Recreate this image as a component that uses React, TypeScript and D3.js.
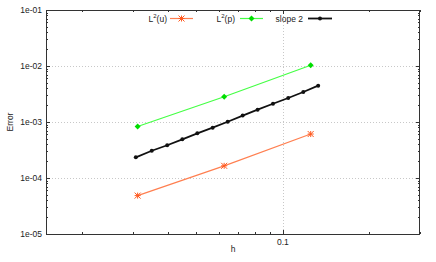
import React, { useEffect, useRef } from 'react';
import * as d3 from 'd3';

// h values and errors
const hMesh = [0.03125, 0.0625, 0.125];
const errU = [4.85e-5, 1.65e-4, 6.1e-4];
const errP = [8.3e-4, 2.83e-3, 1.03e-2];
const hSlope = [0.0308, 0.035, 0.0396, 0.0447, 0.0504, 0.057, 0.0643, 0.0725, 0.0817, 0.0924, 0.1044, 0.1178, 0.1327];
const errSlope = [2.34e-4, 3.07e-4, 3.84e-4, 4.91e-4, 6.28e-4, 7.91e-4, 1.01e-3, 1.3e-3, 1.66e-3, 2.12e-3, 2.68e-3, 3.43e-3, 4.45e-3];
const yTicks = [1e-1, 1e-2, 1e-3, 1e-4, 1e-5];
const xMinor = [0.02, 0.03, 0.04, 0.05, 0.06, 0.07, 0.08, 0.09, 0.2, 0.3];
const xTickLabels = [0.1];
const legendNames = ['L2(u)', 'L2(p)', 'slope 2'];

const App = () => {
  const svgRef = useRef<SVGSVGElement>(null);

  useEffect(() => {
    const width = 436;
    const height = 262;
    const left = 46;
    const right = 420;
    const top = 10;
    const bottom = 234;
    const font = '"Liberation Sans", Arial, sans-serif';

    const svg = d3.select(svgRef.current);
    svg.selectAll('*').remove();
    svg.attr('width', width).attr('height', height);

    const x = d3.scaleLog().domain([0.015, 0.3]).range([left, right]);
    const y = d3.scaleLog().domain([1e-5, 1e-1]).range([bottom, top]);

    // grid
    const grid = svg.append('g').attr('stroke', '#c8c8c8').attr('stroke-dasharray', '1,2').attr('stroke-width', 1);
    yTicks.slice(1, 4).forEach(t => {
      grid.append('line').attr('x1', left).attr('x2', right)
        .attr('y1', Math.round(y(t)) + 0.5).attr('y2', Math.round(y(t)) + 0.5);
    });
    xTickLabels.forEach(t => {
      grid.append('line').attr('y1', top).attr('y2', bottom)
        .attr('x1', Math.round(x(t)) + 0.5).attr('x2', Math.round(x(t)) + 0.5);
    });

    // ticks
    const ticks = svg.append('g').attr('stroke', '#333').attr('stroke-width', 1);
    const yMinor: number[] = [];
    for (let e = -5; e < -1; e++) {
      for (let m = 2; m <= 9; m++) yMinor.push(m * Math.pow(10, e));
    }
    yTicks.forEach(t => {
      const yy = Math.round(y(t)) + 0.5;
      ticks.append('line').attr('x1', left).attr('x2', left + 4).attr('y1', yy).attr('y2', yy);
      ticks.append('line').attr('x1', right - 4).attr('x2', right).attr('y1', yy).attr('y2', yy);
    });
    yMinor.forEach(t => {
      const yy = Math.round(y(t)) + 0.5;
      ticks.append('line').attr('x1', left).attr('x2', left + 2).attr('y1', yy).attr('y2', yy);
      ticks.append('line').attr('x1', right - 2).attr('x2', right).attr('y1', yy).attr('y2', yy);
    });
    xTickLabels.forEach(t => {
      const xx = Math.round(x(t)) + 0.5;
      ticks.append('line').attr('x1', xx).attr('x2', xx).attr('y1', bottom).attr('y2', bottom - 4);
      ticks.append('line').attr('x1', xx).attr('x2', xx).attr('y1', top).attr('y2', top + 4);
    });
    xMinor.forEach(t => {
      const xx = Math.round(x(t)) + 0.5;
      ticks.append('line').attr('x1', xx).attr('x2', xx).attr('y1', bottom).attr('y2', bottom - 2);
      ticks.append('line').attr('x1', xx).attr('x2', xx).attr('y1', top).attr('y2', top + 2);
    });

    // frame
    svg.append('rect').attr('x', left + 0.5).attr('y', top + 0.5)
      .attr('width', right - left - 1).attr('height', bottom - top)
      .attr('fill', 'none').attr('stroke', '#333').attr('stroke-width', 1);

    // tick labels
    const labels = svg.append('g').style('font-family', font).style('font-size', '8.5px').attr('fill', '#222');
    yTicks.forEach(t => {
      labels.append('text').attr('x', left - 4).attr('y', y(t) + 3)
        .attr('text-anchor', 'end').text(d3.format('.0e')(t).replace(/e([+-])(\d)$/, 'e$10$2'));
    });
    xTickLabels.forEach(t => {
      labels.append('text').attr('x', x(t)).attr('y', bottom + 11)
        .attr('text-anchor', 'middle').text(String(t));
    });
    labels.append('text').attr('x', 233).attr('y', 252).attr('text-anchor', 'middle').text('h');
    labels.append('text').attr('transform', 'translate(13,122) rotate(-90)')
      .attr('text-anchor', 'middle').text('Error');

    const line = d3.line<[number, number]>().x(d => x(d[0])).y(d => y(d[1]));

    const starMarker = (g: any, cx: number, cy: number, color: string) => {
      const r = 3;
      g.append('path')
        .attr('d', `M${cx - r},${cy}L${cx + r},${cy}M${cx},${cy - r}L${cx},${cy + r}M${cx - r},${cy - r}L${cx + r},${cy + r}M${cx - r},${cy + r}L${cx + r},${cy - r}`)
        .attr('stroke', color).attr('stroke-width', 1).attr('fill', 'none');
    };
    const diamondMarker = (g: any, cx: number, cy: number, color: string) => {
      const r = 3;
      g.append('path').attr('d', `M${cx},${cy - r}L${cx + r},${cy}L${cx},${cy + r}L${cx - r},${cy}Z`)
        .attr('fill', color);
    };
    const dotMarker = (g: any, cx: number, cy: number, color: string) => {
      g.append('circle').attr('cx', cx).attr('cy', cy).attr('r', 2).attr('fill', color);
    };

    const series = [
      { name: legendNames[0], xs: hMesh, ys: errU, color: '#ff7f50', mark: '#ff5a20', width: 1.2, marker: starMarker },
      { name: legendNames[1], xs: hMesh, ys: errP, color: '#44ff44', mark: '#00dd00', width: 1.2, marker: diamondMarker },
      { name: legendNames[2], xs: hSlope, ys: errSlope, color: '#111', mark: '#111', width: 1.8, marker: dotMarker }
    ];

    const plot = svg.append('g');
    series.forEach(s => {
      const pts = s.xs.map((h, i) => [h, s.ys[i]] as [number, number]);
      plot.append('path').attr('d', line(pts)).attr('fill', 'none')
        .attr('stroke', s.color).attr('stroke-width', s.width);
      pts.forEach(p => s.marker(plot, x(p[0]), y(p[1]), s.mark));
    });

    // legend
    const legend = svg.append('g').style('font-family', font).style('font-size', '8.5px').attr('fill', '#222');
    const legendX = [[167, 170, 193], [235, 240, 263], [303, 308, 332]];
    series.forEach((s, i) => {
      const [tx, l1, l2] = legendX[i];
      const t = legend.append('text').attr('x', tx).attr('y', 21.5).attr('text-anchor', 'end');
      if (i < 2) {
        t.append('tspan').text('L');
        t.append('tspan').attr('dy', -3.5).style('font-size', '6px').text('2');
        t.append('tspan').attr('dy', 3.5).text(i === 0 ? '(u)' : '(p)');
      } else {
        t.text(s.name);
      }
      legend.append('line').attr('x1', l1).attr('x2', l2).attr('y1', 18.5).attr('y2', 18.5)
        .attr('stroke', s.color).attr('stroke-width', s.width);
      s.marker(legend, (l1 + l2) / 2, 18.5, s.mark);
    });
  }, []);

  return (
    <div style={{ position: 'absolute', left: 0, top: 0, width: 436, height: 262, background: '#fff' }}>
      <svg ref={svgRef} style={{ display: 'block' }}></svg>
    </div>
  );
};

export default App;
